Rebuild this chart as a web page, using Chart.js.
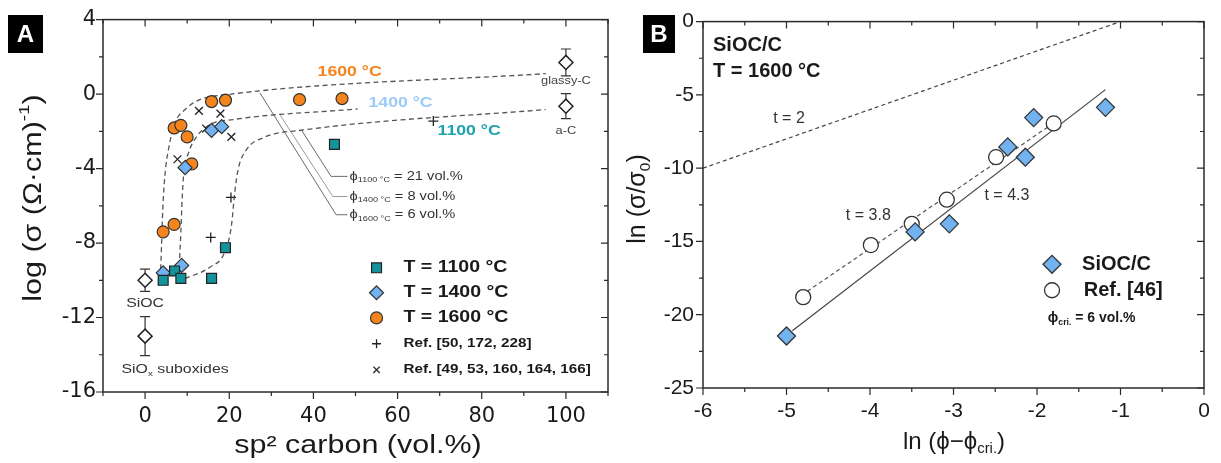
<!DOCTYPE html>
<html>
<head>
<meta charset="utf-8">
<script src="https://cdn.jsdelivr.net/npm/chart.js@4.4.1/dist/chart.umd.min.js"></script>
<style>
  body { margin: 0; background: #fff; }
  #wrap { position: relative; width: 1221px; height: 463px; overflow: hidden; background: #fff; }
  #chartA { position: absolute; left: 0; top: 0; }
  #chartB { position: absolute; left: 620px; top: 0; }
</style>
</head>
<body>
<div id="wrap">
  <canvas id="chartA" width="620" height="463"></canvas>
  <canvas id="chartB" width="601" height="463"></canvas>
</div>
<script>
// ---------- Panel A: log(sigma) vs sp2 carbon content ----------
const t1100X = [4.3, 7.0, 8.5, 15.8, 19.1, 45.0];
const t1100Y = [-10.0, -9.5, -9.9, -9.9, -8.25, -2.7];
const t1400X = [4.3, 8.7, 9.5, 15.8, 18.2];
const t1400Y = [-9.6, -9.2, -3.95, -1.95, -1.75];
const t1600X = [4.3, 6.9, 6.9, 8.5, 10.0, 11.1, 15.8, 19.1, 36.7, 46.8];
const t1600Y = [-7.4, -7.0, -1.82, -1.68, -2.3, -3.75, -0.4, -0.33, -0.3, -0.24];
const refPlusX = [15.6, 20.4, 68.5];
const refPlusY = [-7.7, -5.55, -1.45];
const refCrossX = [7.7, 12.8, 14.5, 17.9, 20.5];
const refCrossY = [-3.5, -0.9, -1.85, -1.05, -2.3];

// reference materials, with error bars
const refMatX = [0, 0, 100, 100];
const refMatY = [-10.0, -13.0, 1.7, -0.65];
const refMatErr = [0.6, 1.05, 0.72, 0.67];

// dashed guide curves
const curve1600X = [3.7, 3.9, 4.2, 4.7, 5.7, 7.1, 9.5, 13.0, 19.4, 95.2];
const curve1600Y = [-9.4, -8.2, -6.2, -4.4, -2.8, -1.55, -0.83, -0.3, -0.03, 1.1];
const curve1400X = [8.1, 8.5, 8.8, 9.2, 10.3, 12.3, 15.4, 20.9, 50.5];
const curve1400Y = [-9.26, -7.46, -5.67, -4.24, -3.17, -2.27, -1.64, -1.37, -0.8];
const curve1100X = [9.5, 15.4, 19.0, 20.5, 21.3, 22.1, 24.1, 28.0, 38.3, 95.2];
const curve1100Y = [-9.9, -9.3, -8.45, -7.1, -5.3, -4.06, -2.98, -2.35, -1.91, -0.83];

// leader lines to the threshold labels
const lead1600X = [27.3, 45.4, 48.1];
const lead1600Y = [0.06, -6.48, -6.48];
const lead1400X = [32.0, 44.6, 48.1];
const lead1400Y = [-1.1, -5.5, -5.5];
const lead1100X = [37.1, 44.2, 48.1];
const lead1100Y = [-1.91, -4.42, -4.42];

// ---------- Panel B: percolation fit ----------
const siocLnX = [-5.0, -3.46, -3.05, -2.35, -2.14, -2.04, -1.18];
const siocLnY = [-21.45, -14.35, -13.8, -8.55, -9.25, -6.55, -5.85];
const ref46LnX = [-4.80, -3.99, -3.50, -3.08, -2.49, -1.80];
const ref46LnY = [-18.8, -15.25, -13.8, -12.15, -9.25, -6.95];
const fitT2X = [-6.0, -1.05];
const fitT2Y = [-10.0, -0.1];
const fitT38X = [-4.75, -1.82];
const fitT38Y = [-18.4, -7.0];
const fitT43X = [-4.93, -1.18];
const fitT43Y = [-21.1, -4.64];

const TXT = '"Liberation Sans", Arial, sans-serif';
Chart.defaults.animation = false;
Chart.defaults.color = '#1a1a1a';
Chart.defaults.font.family = TXT;

const ORANGE = '#f5841c', BLUE = '#72b2f0', TEAL = '#14939c';

function pts(xs, ys) { return xs.map((x, i) => ({ x: x, y: ys[i] })); }

// text with sub/superscript parts, optional horizontal stretch and rotation
function richText(ctx, parts, x, y, o) {
  const size = o.size, sx = o.sx || 1, weight = o.weight || 'normal';
  ctx.save();
  ctx.translate(x, y);
  if (o.rot) ctx.rotate(o.rot);
  ctx.scale(sx, 1);
  ctx.fillStyle = o.color || '#1a1a1a';
  ctx.textBaseline = 'middle';
  ctx.textAlign = 'left';
  const fontFor = m => weight + ' ' + (m ? size * 0.62 : size) + 'px ' + TXT;
  let w = 0;
  parts.forEach(p => { ctx.font = fontFor(p[1]); w += ctx.measureText(p[0]).width; });
  let cx = o.align === 'center' ? -w / 2 : o.align === 'right' ? -w : 0;
  parts.forEach(p => {
    ctx.font = fontFor(p[1]);
    const dy = p[1] === 'sub' ? size * 0.3 : p[1] === 'sup' ? -size * 0.38 : 0;
    ctx.fillText(p[0], cx, dy);
    cx += ctx.measureText(p[0]).width;
  });
  ctx.restore();
}

function marker(ctx, style, x, y, r, fill, stroke, lw) {
  ctx.save();
  ctx.beginPath();
  if (style === 'circle') ctx.arc(x, y, r, 0, Math.PI * 2);
  else if (style === 'rect') { const h = r * Math.SQRT1_2; ctx.rect(x - h, y - h, 2 * h, 2 * h); }
  else if (style === 'rectRot') { ctx.moveTo(x - r, y); ctx.lineTo(x, y - r); ctx.lineTo(x + r, y); ctx.lineTo(x, y + r); ctx.closePath(); }
  else if (style === 'cross') { ctx.moveTo(x - r, y); ctx.lineTo(x + r, y); ctx.moveTo(x, y - r); ctx.lineTo(x, y + r); }
  else if (style === 'crossRot') { const h = r * Math.SQRT1_2; ctx.moveTo(x - h, y - h); ctx.lineTo(x + h, y + h); ctx.moveTo(x - h, y + h); ctx.lineTo(x + h, y - h); }
  if (fill) { ctx.fillStyle = fill; ctx.fill(); }
  ctx.lineWidth = lw || 1; ctx.strokeStyle = stroke; ctx.stroke();
  ctx.restore();
}

// frame + ticks (out on bottom/left, in on top/right)
const frameTicks = {
  id: 'frameTicks',
  afterDraw(chart) {
    const ctx = chart.ctx, a = chart.chartArea;
    const xs = chart.scales.x, ys = chart.scales.y;
    ctx.save();
    ctx.strokeStyle = '#2a2a2a';
    ctx.lineWidth = 1.5;
    ctx.strokeRect(a.left, a.top, a.right - a.left, a.bottom - a.top);
    ctx.lineWidth = 1.2;
    ctx.beginPath();
    xs.ticks.forEach(t => {
      const p = xs.getPixelForValue(t.value), len = t.label !== '' ? 7 : 4;
      ctx.moveTo(p, a.bottom); ctx.lineTo(p, a.bottom + len);
      ctx.moveTo(p, a.top); ctx.lineTo(p, a.top + len);
    });
    ys.ticks.forEach(t => {
      const p = ys.getPixelForValue(t.value), len = t.label !== '' ? 7 : 4;
      ctx.moveTo(a.left, p); ctx.lineTo(a.left - len, p);
      ctx.moveTo(a.right, p); ctx.lineTo(a.right - len, p);
    });
    ctx.stroke();
    ctx.restore();
  }
};

function panelBox(ctx, letter, x, y, w, h) {
  ctx.save();
  ctx.fillStyle = '#000';
  ctx.fillRect(x, y, w, h);
  ctx.fillStyle = '#fff';
  ctx.font = 'bold 24px ' + TXT;
  ctx.textAlign = 'center';
  ctx.textBaseline = 'middle';
  ctx.fillText(letter, x + w / 2, y + h / 2 + 1);
  ctx.restore();
}

// ---------- annotations for panel A ----------
const SX = 1.22;
const annoA = {
  id: 'annoA',
  afterDraw(chart) {
    const ctx = chart.ctx, xs = chart.scales.x, ys = chart.scales.y;
    const X = v => xs.getPixelForValue(v), Y = v => ys.getPixelForValue(v);
    // error bars of reference materials
    ctx.save();
    ctx.strokeStyle = '#333'; ctx.lineWidth = 1.2;
    refMatX.forEach((x, i) => {
      const px = X(x), top = Y(refMatY[i] + refMatErr[i]), bot = Y(refMatY[i] - refMatErr[i]);
      ctx.beginPath();
      ctx.moveTo(px, top); ctx.lineTo(px, bot);
      ctx.moveTo(px - 5, top); ctx.lineTo(px + 5, top);
      ctx.moveTo(px - 5, bot); ctx.lineTo(px + 5, bot);
      ctx.stroke();
      marker(ctx, 'rectRot', px, Y(refMatY[i]), 7, '#fff', '#222', 1.5);
    });
    ctx.restore();

    richText(ctx, [['1600 °C', '']], X(48.6), Y(1.16), { size: 14.5, weight: 'bold', color: ORANGE, align: 'center', sx: SX });
    richText(ctx, [['1400 °C', '']], X(60.7), Y(-0.46), { size: 14.5, weight: 'bold', color: '#9ecaf7', align: 'center', sx: SX });
    richText(ctx, [['1100 °C', '']], X(77.0), Y(-2.0), { size: 14.5, weight: 'bold', color: '#1fa2ad', align: 'center', sx: SX });

    richText(ctx, [['ϕ', ''], ['1100 °C', 'sub'], [' = 21 vol.%', '']], X(48.6), Y(-4.44), { size: 12, color: '#333', sx: SX });
    richText(ctx, [['ϕ', ''], ['1400 °C', 'sub'], [' = 8 vol.%', '']], X(48.6), Y(-5.5), { size: 12, color: '#333', sx: SX });
    richText(ctx, [['ϕ', ''], ['1600 °C', 'sub'], [' = 6 vol.%', '']], X(48.6), Y(-6.5), { size: 12, color: '#333', sx: SX });

    richText(ctx, [['glassy-C', '']], X(100), Y(0.67), { size: 10.5, color: '#444', align: 'center', sx: SX });
    richText(ctx, [['a-C', '']], X(100), Y(-2.0), { size: 10.5, color: '#444', align: 'center', sx: SX });
    richText(ctx, [['SiOC', '']], X(0), Y(-11.25), { size: 13, color: '#333', align: 'center', sx: SX });
    richText(ctx, [['SiO', ''], ['x', 'sub'], [' suboxides', '']], X(-5.6), Y(-14.8), { size: 13, color: '#333', sx: SX });

    // legend
    const lx = X(55.0), tx = X(61.4);
    const rows = [-9.33, -10.67, -12.02, -13.41, -14.81].map(Y);
    marker(ctx, 'rect', lx, rows[0], 7, TEAL, '#222', 1.2);
    marker(ctx, 'rectRot', lx, rows[1], 7, BLUE, '#333', 1.2);
    marker(ctx, 'circle', lx, rows[2], 6, ORANGE, '#333', 1.2);
    marker(ctx, 'cross', lx, rows[3], 4.5, null, '#222', 1.3);
    marker(ctx, 'crossRot', lx, rows[4], 4.5, null, '#222', 1.3);
    richText(ctx, [['T = 1100 °C', '']], tx, rows[0], { size: 16, weight: 'bold', sx: SX });
    richText(ctx, [['T = 1400 °C', '']], tx, rows[1], { size: 16, weight: 'bold', sx: SX });
    richText(ctx, [['T = 1600 °C', '']], tx, rows[2], { size: 16, weight: 'bold', sx: SX });
    richText(ctx, [['Ref. [50, 172, 228]', '']], tx, rows[3], { size: 12.5, weight: 'bold', sx: SX });
    richText(ctx, [['Ref. [49, 53, 160, 164, 166]', '']], tx, rows[4], { size: 12.5, weight: 'bold', sx: SX });

    // axis titles and panel letter
    richText(ctx, [['sp² carbon (vol.%)', '']], 358, 446, { size: 25, align: 'center', sx: SX });
    richText(ctx, [['log (σ (Ω·cm)', ''], ['-1', 'sup'], [')', '']], 34, 198, { size: 25, align: 'center', sx: SX, rot: -Math.PI / 2 });
    panelBox(ctx, 'A', 8, 15, 35, 38);
  }
};

const lineStyle = { showLine: true, pointRadius: 0, borderColor: '#555', borderWidth: 1.3, borderDash: [5, 3.5], cubicInterpolationMode: 'monotone', order: 2 };
const leadStyle = { showLine: true, pointRadius: 0, borderColor: '#6a6a6a', borderWidth: 1, order: 2 };

new Chart(document.getElementById('chartA'), {
  type: 'scatter',
  data: {
    datasets: [
      Object.assign({ data: pts(curve1600X, curve1600Y) }, lineStyle),
      Object.assign({ data: pts(curve1400X, curve1400Y) }, lineStyle),
      Object.assign({ data: pts(curve1100X, curve1100Y) }, lineStyle),
      Object.assign({ data: pts(lead1600X, lead1600Y) }, leadStyle),
      Object.assign({ data: pts(lead1400X, lead1400Y) }, leadStyle, { borderColor: '#9a9a9a' }),
      Object.assign({ data: pts(lead1100X, lead1100Y) }, leadStyle),
      { label: 'T = 1100 °C', data: pts(t1100X, t1100Y), pointStyle: 'rect', pointRadius: 7, backgroundColor: TEAL, borderColor: '#222', borderWidth: 1.2, order: 0 },
      { label: 'T = 1400 °C', data: pts(t1400X, t1400Y), pointStyle: 'rectRot', pointRadius: 7, backgroundColor: BLUE, borderColor: '#333', borderWidth: 1.2, order: 0 },
      { label: 'T = 1600 °C', data: pts(t1600X, t1600Y), pointStyle: 'circle', pointRadius: 6, backgroundColor: ORANGE, borderColor: '#333', borderWidth: 1.2, order: 0 },
      { label: 'Ref. [50, 172, 228]', data: pts(refPlusX, refPlusY), pointStyle: 'cross', pointRadius: 5, borderColor: '#222', borderWidth: 1.3, order: 0 },
      { label: 'Ref. [49, 53, 160, 164, 166]', data: pts(refCrossX, refCrossY), pointStyle: 'crossRot', pointRadius: 5.5, borderColor: '#222', borderWidth: 1.3, order: 0 }
    ]
  },
  options: {
    responsive: false,
    layout: { padding: { left: 0, top: 19, right: 11, bottom: 0 } },
    plugins: { legend: { display: false }, tooltip: { enabled: false } },
    scales: {
      x: {
        type: 'linear', min: -10, max: 110,
        grid: { display: false, drawTicks: false }, border: { display: false },
        ticks: { stepSize: 10, autoSkip: false, maxRotation: 0, minRotation: 0, padding: 12, color: '#1a1a1a',
                 font: { family: '"DejaVu Sans", sans-serif', size: 21 },
                 callback: v => (v % 20 === 0 ? String(v) : '') },
        afterFit: s => { s.height = 71; }
      },
      y: {
        type: 'linear', min: -16, max: 4,
        grid: { display: false, drawTicks: false }, border: { display: false },
        ticks: { stepSize: 2, autoSkip: false, padding: 7, color: '#1a1a1a',
                 font: { family: '"DejaVu Sans", sans-serif', size: 21 },
                 callback: v => (v % 4 === 0 ? String(v) : '') },
        afterFit: s => { s.width = 103; }
      }
    }
  },
  plugins: [frameTicks, annoA]
});

// ---------- annotations for panel B ----------
const annoB = {
  id: 'annoB',
  afterDraw(chart) {
    const ctx = chart.ctx, xs = chart.scales.x, ys = chart.scales.y;
    const X = v => xs.getPixelForValue(v), Y = v => ys.getPixelForValue(v);
    richText(ctx, [['SiOC/C', '']], X(-5.88), Y(-1.6), { size: 20, weight: 'bold' });
    richText(ctx, [['T = 1600 °C', '']], X(-5.88), Y(-3.39), { size: 20, weight: 'bold' });
    richText(ctx, [['t = 2', '']], X(-4.97), Y(-6.65), { size: 16, color: '#333', align: 'center' });
    richText(ctx, [['t = 3.8', '']], X(-4.02), Y(-13.24), { size: 16, color: '#333', align: 'center' });
    richText(ctx, [['t = 4.3', '']], X(-2.36), Y(-11.88), { size: 16, color: '#333', align: 'center' });

    // legend
    marker(ctx, 'rectRot', X(-1.82), Y(-16.56), 9, BLUE, '#333', 1.3);
    marker(ctx, 'circle', X(-1.82), Y(-18.33), 7.5, '#fff', '#333', 1.3);
    richText(ctx, [['SiOC/C', '']], X(-1.46), Y(-16.56), { size: 20, weight: 'bold' });
    richText(ctx, [['Ref. [46]', '']], X(-1.44), Y(-18.33), { size: 20, weight: 'bold' });
    richText(ctx, [['ϕ', ''], ['cri.', 'sub'], [' = 6 vol.%', '']], X(-1.87), Y(-20.23), { size: 14, weight: 'bold' });

    richText(ctx, [['ln (ϕ−ϕ', ''], ['cri.', 'sub'], [')', '']], 334, 442, { size: 24, align: 'center' });
    richText(ctx, [['ln (σ/σ', ''], ['0', 'sub'], [')', '']], 18, 199, { size: 25, align: 'center', rot: -Math.PI / 2 });
    panelBox(ctx, 'B', 23, 15, 32, 38);
  }
};

const fitStyle = { showLine: true, pointRadius: 0, borderColor: '#444', borderWidth: 1.2, order: 2 };

new Chart(document.getElementById('chartB'), {
  type: 'scatter',
  data: {
    datasets: [
      Object.assign({ data: pts(fitT2X, fitT2Y) }, fitStyle, { borderDash: [4, 3] }),
      Object.assign({ data: pts(fitT38X, fitT38Y) }, fitStyle, { borderDash: [4, 3], borderColor: '#555' }),
      Object.assign({ data: pts(fitT43X, fitT43Y) }, fitStyle),
      { label: 'Ref. [46]', data: pts(ref46LnX, ref46LnY), pointStyle: 'circle', pointRadius: 7.5, backgroundColor: '#fff', borderColor: '#333', borderWidth: 1.3, order: 1 },
      { label: 'SiOC/C', data: pts(siocLnX, siocLnY), pointStyle: 'rectRot', pointRadius: 9, backgroundColor: BLUE, borderColor: '#333', borderWidth: 1.3, order: 0 }
    ]
  },
  options: {
    responsive: false,
    layout: { padding: { left: 0, top: 20, right: 17, bottom: 0 } },
    plugins: { legend: { display: false }, tooltip: { enabled: false } },
    scales: {
      x: {
        type: 'linear', min: -6, max: 0,
        grid: { display: false, drawTicks: false }, border: { display: false },
        ticks: { stepSize: 0.5, autoSkip: false, maxRotation: 0, minRotation: 0, padding: 11, color: '#1a1a1a', font: { size: 21 },
                 callback: v => (Math.abs(v % 1) < 1e-9 ? String(v) : '') },
        afterFit: s => { s.height = 75; }
      },
      y: {
        type: 'linear', min: -25, max: 0,
        grid: { display: false, drawTicks: false }, border: { display: false },
        ticks: { stepSize: 2.5, autoSkip: false, padding: 9, color: '#1a1a1a', font: { size: 21 },
                 callback: v => (Math.abs(v % 5) < 1e-9 ? String(v) : '') },
        afterFit: s => { s.width = 83; }
      }
    }
  },
  plugins: [frameTicks, annoB]
});
</script>
</body>
</html>
